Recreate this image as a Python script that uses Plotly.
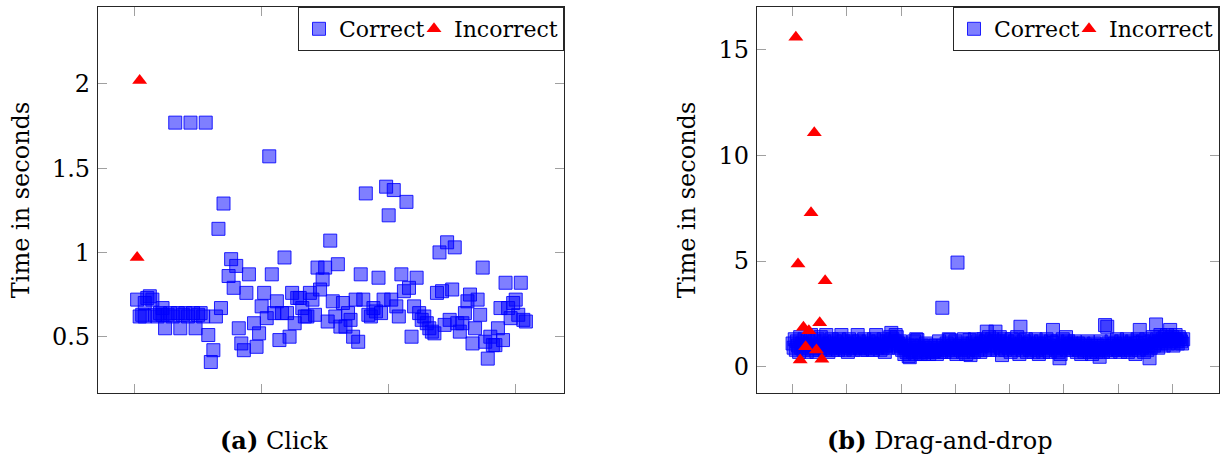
import plotly.graph_objects as go

# ---------------- (a) Click ----------------
click_correct_x = [1, 2, 3, 4, 4, 5, 6, 7, 8, 9, 10, 11, 11, 12, 13, 14, 15, 16, 17, 18, 19, 20,
                   21, 22, 23, 24, 25, 26, 27, 28, 29, 30, 31, 32, 33, 34, 35, 37, 38, 39, 40,
                   41, 42, 43, 44, 45, 47, 48, 49, 50, 51, 52, 53, 54, 55, 56, 57, 58, 59, 60,
                   61, 62, 63, 64, 65, 66, 67, 68, 69, 70, 71, 72, 73, 74, 75, 76, 77, 78, 79,
                   80, 81, 82, 83, 84, 85, 86, 87, 88, 89, 90, 91, 92, 93, 94, 95, 96, 97, 98,
                   99, 100, 101, 102, 103, 104, 105, 106, 107, 108, 109, 110, 111, 112, 113, 114,
                   115, 116, 117, 118, 119, 120, 121, 122, 123, 124, 125, 126, 127, 128, 129, 130,
                   131, 132, 133, 134, 135, 136, 137, 138, 139, 140, 141, 142, 143, 144, 145, 146,
                   147, 148, 149, 150, 151, 152, 153, 154]
click_correct_y = [0.72, 0.62, 0.63, 0.70, 0.62, 0.73, 0.74, 0.72, 0.63, 0.62, 0.64, 0.67, 0.63,
                   0.55, 0.63, 0.64, 0.62, 1.77, 0.64, 0.55, 0.63, 0.64, 0.62, 1.77, 0.64, 0.55,
                   0.63, 0.64, 0.62, 1.77, 0.51, 0.35, 0.42, 0.62, 1.14, 0.67, 1.29, 0.86, 0.96,
                   0.79, 0.92, 0.55, 0.46, 0.42, 0.76, 0.87, 0.58, 0.44, 0.52, 0.68, 0.76, 0.61,
                   1.57, 0.87, 0.64, 0.71, 0.48, 0.64, 0.97, 0.64, 0.50, 0.76, 0.58, 0.73, 0.73,
                   0.67, 0.62, 0.62, 0.76, 0.72, 0.63, 0.91, 0.78, 0.84, 0.91, 0.59, 1.07, 0.71,
                   0.62, 0.93, 0.56, 0.70, 0.56, 0.64, 0.60, 0.50, 0.72, 0.47, 0.87, 0.72, 1.35,
                   0.63, 0.62, 0.67, 0.65, 0.85, 0.64, 0.72, 1.39, 1.22, 0.72, 1.37, 0.68, 0.62,
                   0.87, 0.77, 1.30, 0.79, 0.50, 0.68, 0.85, 0.64, 0.60, 0.62, 0.58, 0.55, 0.53,
                   0.52, 0.76, 1.00, 0.77, 0.57, 1.06, 0.60, 0.78, 1.03, 0.58, 0.53, 0.58, 0.64,
                   0.71, 0.75, 0.46, 0.55, 0.72, 0.63, 0.91, 0.47, 0.37, 0.50, 0.45, 0.45, 0.55,
                   0.67, 0.48, 0.82, 0.67, 0.61, 0.70, 0.72, 0.63, 0.82, 0.60, 0.59]
click_incorrect_x = [1, 2]
click_incorrect_y = [0.97, 2.02]

# ---------------- (b) Drag-and-drop ----------------
drag_correct_y = [
    1.1, 0.9, 1.3, 0.8, 1.2, 1.0, 0.7, 1.4, 0.9, 1.1, 0.8, 1.3, 1.0, 0.7, 1.2, 0.9, 1.1, 1.5, 0.8, 1.0,
    1.2, 0.9, 0.7, 1.3, 1.0, 0.8, 1.4, 1.1, 0.9, 1.2, 0.8, 1.5, 1.0, 0.7, 1.1, 0.9, 1.3, 0.8, 1.0, 1.2,
    0.9, 1.1, 0.8, 1.3, 1.0, 1.5, 0.9, 1.2, 0.8, 1.0, 1.1, 0.7, 1.3, 0.9, 1.0, 1.2, 0.8, 1.1, 0.9, 1.0,
    1.5, 1.2, 0.9, 1.0, 0.8, 1.1, 1.3, 0.9, 1.0, 0.8, 1.2, 1.0, 0.9, 1.1, 0.8, 1.3, 1.0, 1.5, 0.9, 1.2,
    1.0, 0.8, 1.1, 0.9, 1.3, 0.7, 1.0, 1.2, 0.9, 1.1, 1.4, 1.6, 1.3, 1.0, 1.2, 1.5, 1.4, 1.1, 0.9, 1.2,
    1.0, 0.8, 1.1, 0.6, 0.9, 0.7, 1.0, 0.5, 0.45, 0.8, 1.0, 0.7, 1.2, 0.6, 1.3, 1.26, 0.9, 0.7, 0.6, 1.0,
    0.8, 0.6, 0.9, 1.1, 0.7, 0.8, 0.6, 1.0, 0.9, 0.7, 0.71, 0.8, 1.0, 0.6, 0.9, 1.2, 0.8, 0.7, 2.79, 1.0,
    0.7, 0.9, 1.1, 0.8, 1.3, 1.26, 0.9, 0.7, 1.0, 0.8, 1.2, 0.6, 4.93, 0.9, 1.0, 0.8, 1.1, 0.7, 1.3, 0.9,
    0.6, 1.0, 0.8, 1.26, 0.55, 0.9, 1.1, 0.7, 1.3, 1.0, 0.8, 1.2, 0.9, 0.7, 1.1, 1.0, 1.3, 0.8, 1.2, 1.66,
    1.0, 1.4, 0.8, 1.1, 1.3, 0.9, 1.2, 1.66, 1.0, 0.8, 1.2, 1.4, 0.9, 0.55, 1.1, 1.3, 0.8, 1.0, 1.2, 0.9,
    1.1, 0.7, 1.3, 1.0, 0.8, 1.2, 0.9, 1.4, 1.0, 0.6, 1.89, 1.1, 0.8, 1.2, 0.9, 1.3, 0.7, 1.0, 1.1, 0.8,
    1.2, 0.9, 0.7, 1.0, 1.3, 0.8, 1.1, 0.6, 0.9, 1.2, 1.0, 0.7, 1.1, 0.8, 1.3, 0.9, 1.0, 0.7, 1.2, 1.1,
    1.74, 0.9, 1.0, 0.8, 1.2, 0.7, 0.4, 0.6, 1.0, 1.3, 0.9, 1.1, 1.4, 0.8, 1.2, 1.0, 0.9, 1.1, 0.8, 1.0,
    1.2, 0.9, 0.7, 1.1, 0.8, 1.0, 0.6, 0.9, 1.1, 0.7, 1.0, 0.8, 1.2, 0.9, 0.7, 1.0, 0.6, 0.8, 1.1, 0.9,
    0.7, 1.0, 0.8, 0.47, 1.2, 0.9, 0.7, 1.0, 1.97, 0.8, 1.89, 1.1, 0.9, 0.7, 1.2, 1.0, 0.8, 1.1, 0.9, 1.3,
    0.8, 1.0, 0.7, 1.2, 0.9, 1.1, 0.8, 1.0, 1.3, 0.7, 0.9, 1.1, 0.8, 1.2, 1.0, 0.9, 0.6, 1.1, 1.3, 0.8,
    1.74, 1.0, 0.9, 1.2, 0.7, 1.1, 1.3, 0.8, 1.0, 0.4, 0.9, 1.2, 1.4, 1.0, 1.1, 2.0, 1.3, 0.9, 1.2, 1.5,
    1.1, 1.3, 1.0, 1.4, 1.2, 1.5, 1.1, 1.3, 1.74, 1.2, 1.4, 1.0, 1.3, 1.5, 1.2, 1.1, 1.4, 1.3, 1.2, 1.1, 1.3,
]
drag_correct_x = list(range(len(drag_correct_y)))
drag_incorrect_x = [3, 5, 7, 10, 12, 15, 17, 20, 22, 25, 27, 30]
drag_incorrect_y = [15.6, 4.86, 0.32, 1.87, 0.95, 1.70, 7.29, 11.08, 0.79, 2.08, 0.35, 4.07]

left_ytick_vals = [0.5, 1, 1.5, 2]
left_ytick_text = ["0.5", "1", "1.5", "2"]
left_xtick_vals = [0, 50, 100, 150]
right_ytick_vals = [0, 5, 10, 15]
right_ytick_text = ["0", "5", "10", "15"]
right_xtick_vals = [0, 50, 100, 150, 200, 250, 300, 350]

W, H = 1221, 461
FONT = "DejaVu Serif"
FS = 24

sq = dict(symbol="square", size=13, color="rgba(0,0,255,0.5)",
          line=dict(color="rgba(0,0,255,0.85)", width=1))
tri = dict(symbol="triangle-up", size=13, color="red", line=dict(width=0))

fig = go.Figure()
fig.add_trace(go.Scatter(x=click_correct_x, y=click_correct_y, mode="markers", marker=sq,
                         name="Correct", xaxis="x", yaxis="y", legend="legend", legendwidth=70))
fig.add_trace(go.Scatter(x=click_incorrect_x, y=click_incorrect_y, mode="markers", marker=tri,
                         name="Incorrect", xaxis="x", yaxis="y", legend="legend"))
fig.add_trace(go.Scatter(x=drag_correct_x, y=drag_correct_y, mode="markers", marker=sq,
                         name="Correct", xaxis="x2", yaxis="y2", legend="legend2", legendwidth=70))
fig.add_trace(go.Scatter(x=drag_incorrect_x, y=drag_incorrect_y, mode="markers", marker=tri,
                         name="Incorrect", xaxis="x2", yaxis="y2", legend="legend2"))

axis_common = dict(showline=True, linecolor="#262626", linewidth=1.3, mirror="ticks",
                   ticks="inside", ticklen=9, tickcolor="#a0a0a0", tickwidth=1.2,
                   showgrid=False, zeroline=False,
                   tickfont=dict(family=FONT, size=FS, color="black"))

legend_common = dict(orientation="h", y=1 - 7 / H, yanchor="top", xanchor="right",
                     bgcolor="white", bordercolor="#262626", borderwidth=1,
                     font=dict(family=FONT, size=22), itemsizing="trace",
                     tracegroupgap=0, itemwidth=30)

ydom = [1 - 393 / H, 1 - 7 / H]
fig.update_layout(
    width=W, height=H, margin=dict(l=0, r=0, t=0, b=0),
    paper_bgcolor="white", plot_bgcolor="white",
    font=dict(family=FONT, size=FS, color="black"),
    xaxis=dict(domain=[98 / W, 564 / W], range=[-14.4, 169], tickvals=left_xtick_vals,
               showticklabels=False, anchor="y", **axis_common),
    yaxis=dict(domain=ydom, range=[0.166, 2.456], tickvals=left_ytick_vals,
               ticktext=left_ytick_text, anchor="x", ticklabelstandoff=2,
               title=dict(text="Time in seconds", font=dict(family=FONT, size=FS), standoff=15),
               **axis_common),
    xaxis2=dict(domain=[757 / W, 1219 / W], range=[-32.8, 393], tickvals=right_xtick_vals,
                showticklabels=False, anchor="y2", **axis_common),
    yaxis2=dict(domain=ydom, range=[-1.245, 17.03], tickvals=right_ytick_vals,
                ticktext=right_ytick_text, anchor="x2", ticklabelstandoff=2,
                title=dict(text="Time in seconds", font=dict(family=FONT, size=FS), standoff=16),
                **axis_common),
    legend=dict(x=564 / W, **legend_common),
    legend2=dict(x=1219 / W, **legend_common),
    showlegend=True,
    annotations=[
        dict(text="<b>(a)</b> Click", x=274 / W, y=1 - 440 / H, xref="paper", yref="paper",
             showarrow=False, xanchor="center", yanchor="middle",
             font=dict(family=FONT, size=FS)),
        dict(text="<b>(b)</b> Drag-and-drop", x=940 / W, y=1 - 440 / H, xref="paper",
             yref="paper", showarrow=False, xanchor="center", yanchor="middle",
             font=dict(family=FONT, size=FS)),
    ],
)

fig.write_html("out.html")
